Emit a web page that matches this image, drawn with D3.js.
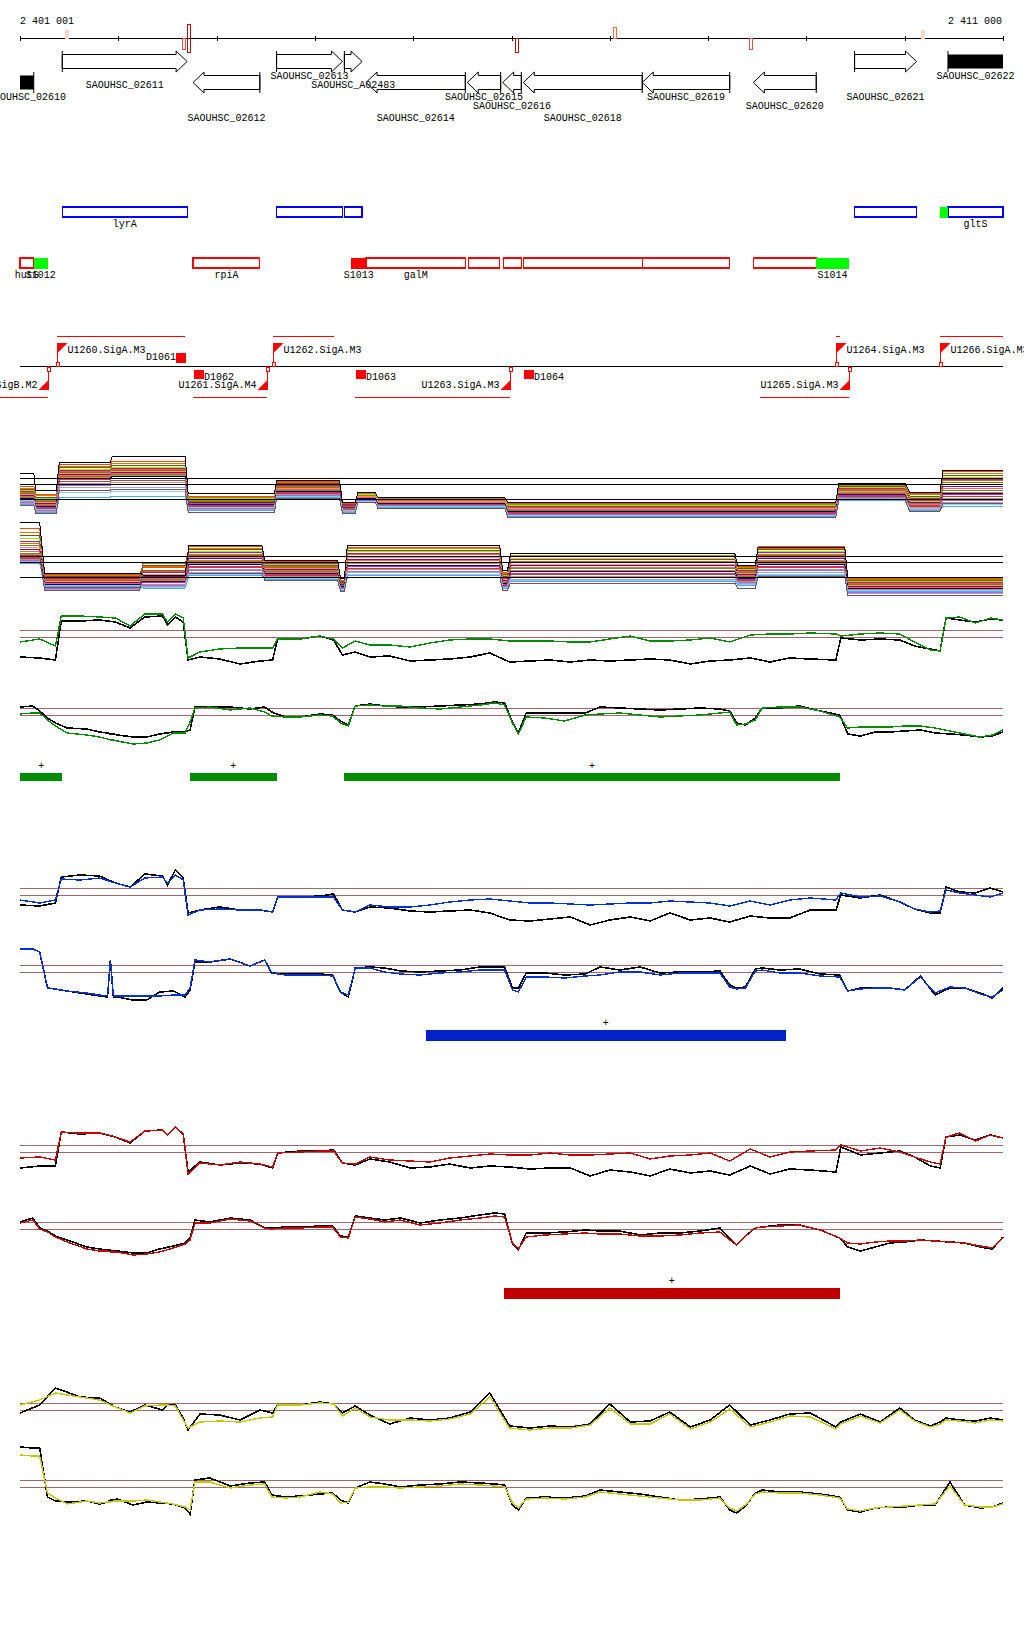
<!DOCTYPE html>
<html><head><meta charset="utf-8">
<script src="https://cdn.jsdelivr.net/npm/d3@7/dist/d3.min.js"></script>
<style>
body{margin:0;background:#fff}
text{font-family:"Liberation Mono","DejaVu Sans Mono",monospace;font-size:10px;fill:#000}
</style></head>
<body><svg id="c" width="1024" height="1640"></svg>
<script>
// ---------------- DATA (positions in kb from 2 401 001) ----------------
const axisLabels = ["2 401 001", "2 411 000"];
const axisMarks = [[0.48,"+",0.25],[1.67,"-",0.7],[1.72,"±",1.0],[5.06,"-",1.0],[6.05,"+",0.6],[7.44,"-",0.7],[9.19,"+",0.25]];

const genes = [
 ["SAOUHSC_02610",-0.6,0.14,-1,2],
 ["SAOUHSC_02611",0.43,1.70,1,1],
 ["SAOUHSC_02612",1.76,2.44,-1,4],
 ["SAOUHSC_02613",2.61,3.28,1,0],
 ["SAOUHSC_A02483",3.30,3.48,1,1],
 ["SAOUHSC_02614",3.52,4.53,-1,4],
 ["SAOUHSC_02615",4.55,4.89,-1,2],
 ["SAOUHSC_02616",4.91,5.10,-1,3],
 ["SAOUHSC_02618",5.12,6.33,-1,4],
 ["SAOUHSC_02619",6.33,7.22,-1,2],
 ["SAOUHSC_02620",7.46,8.10,-1,3],
 ["SAOUHSC_02621",8.49,9.12,1,2],
 ["SAOUHSC_02622",9.44,10.6,1,0]
];
const fwdBoxes = [["lyrA",0.43,1.70],["",2.61,3.28],["",3.30,3.48],["",8.49,9.12],["gltS",9.44,10.6]];
const revBoxes = [["hutG",-0.3,0.14],["rpiA",1.76,2.44],["galM",3.52,4.53],["",4.56,4.88],["",4.92,5.10],["",5.12,6.33],["",6.33,7.22],["",7.46,8.10]];
const sFeatures = [["S1012",0.14,0.28,-1,"up"],["S1013",3.37,3.52,-1,"down"],["S1014",8.10,8.43,-1,"up"],["",9.36,9.44,1,"up"]];

const promoters = [["U1259.SigB.M2",0.28,-1],["U1260.SigA.M3",0.38,1],["U1261.SigA.M4",2.51,-1],["U1262.SigA.M3",2.57,1],
 ["U1263.SigA.M3",4.98,-1],["U1264.SigA.M3",8.30,1],["U1265.SigA.M3",8.43,-1],["U1266.SigA.M3",9.36,1]];
const terminators = [["D1061",1.686,1],["D1062",1.77,-1],["D1063",3.415,-1],["D1064",5.127,-1]];
const fwdTx = [[0.38,1.68],[2.57,3.19],[8.30,8.34],[9.36,10]];
const revTx = [[-0.2,0.28],[1.76,2.51],[3.41,4.98],[7.53,8.43]];

// multi-condition tracks (segment levels)
const multiRefs = [0,-0.6,-2.1];
const multiFwdSeg = [[0,0.14],[0.16,0.37],[0.40,0.92],[0.94,1.68],[1.71,2.59],[2.61,3.25],[3.28,3.41],[3.44,3.61],[3.64,4.93],[4.96,8.3],[8.33,9.0],[9.05,9.36],[9.39,10]];
const multiFwdBlack = [0.5,-1.2,1.6,2.2,-1.5,-0.2,-2.4,-1.4,-1.9,-2.4,-0.5,-1.4,0.8];
const multiFwdLines = [
 [-0.8,-1.6,1.4,1.7,-1.8,-0.3,-2.5,-1.4,-1.9,-2.5,-0.6,-1.5,0.7],
 [-1.0,-1.7,1.2,1.5,-1.9,-0.4,-2.6,-1.5,-2.0,-2.6,-0.7,-1.6,0.5],
 [-1.1,-1.9,1.1,1.3,-2.0,-0.5,-2.6,-1.6,-2.1,-2.7,-0.8,-1.8,0.3],
 [-1.2,-2.0,0.9,1.1,-2.0,-0.6,-2.7,-1.6,-2.1,-2.7,-0.9,-1.9,0.1],
 [-1.3,-2.1,0.8,1.0,-2.1,-0.7,-2.7,-1.7,-2.2,-2.8,-1.0,-2.0,-0.1],
 [-1.4,-2.2,0.7,0.9,-2.2,-0.8,-2.8,-1.7,-2.2,-2.9,-1.1,-2.1,-0.2],
 [-1.5,-2.3,0.6,0.8,-2.3,-0.9,-2.8,-1.8,-2.3,-2.9,-1.2,-2.2,-0.4],
 [-1.6,-2.4,0.5,0.7,-2.4,-1.0,-2.9,-1.8,-2.3,-3.0,-1.3,-2.3,-0.6],
 [-1.7,-2.5,0.4,0.6,-2.4,-1.1,-2.9,-1.9,-2.4,-3.1,-1.4,-2.4,-0.8],
 [-1.8,-2.6,0.3,0.5,-2.5,-1.1,-3.0,-1.9,-2.4,-3.1,-1.4,-2.5,-1.0],
 [-1.9,-2.7,0.2,0.4,-2.5,-1.2,-3.0,-2.0,-2.5,-3.2,-1.5,-2.5,-1.2],
 [-2.0,-2.8,0.1,0.3,-2.6,-1.3,-3.1,-2.0,-2.5,-3.3,-1.6,-2.6,-1.4],
 [-2.0,-2.8,0.0,0.2,-2.6,-1.3,-3.1,-2.0,-2.5,-3.3,-1.6,-2.7,-1.5],
 [-2.1,-2.9,-0.1,0.0,-2.7,-1.4,-3.1,-2.1,-2.6,-3.4,-1.7,-2.7,-1.6],
 [-2.2,-3.0,-0.3,-0.2,-2.8,-1.5,-3.2,-2.1,-2.6,-3.5,-1.8,-2.8,-1.8],
 [-2.3,-3.1,-0.5,-0.4,-2.9,-1.6,-3.2,-2.2,-2.7,-3.6,-1.9,-2.9,-2.0],
 [-2.4,-3.2,-0.7,-0.6,-3.0,-1.7,-3.3,-2.2,-2.7,-3.6,-1.9,-3.0,-2.2],
 [-2.5,-3.3,-0.9,-0.9,-3.1,-1.8,-3.3,-2.3,-2.8,-3.7,-2.0,-3.1,-2.4],
 [-2.2,-3.1,-1.4,-1.3,-2.9,-1.8,-3.2,-2.3,-2.8,-3.7,-2.1,-3.0,-2.6],
 [-2.6,-3.4,-1.9,-1.8,-3.2,-1.9,-3.4,-2.4,-2.9,-3.8,-2.2,-3.2,-2.8],
 [-2.7,-3.5,-1.2,-1.1,-3.4,-2.0,-3.5,-2.4,-3.0,-3.9,-2.1,-3.3,-2.5]
];
const multiRevSeg = [[0,0.2],[0.25,1.22],[1.25,1.68],[1.72,2.46],[2.49,3.23],[3.26,3.3],[3.33,4.88],[4.91,4.96],[4.99,7.27],[7.3,7.48],[7.51,8.39],[8.42,10]];
const multiRevBlack = [3.4,-1.7,-1.9,1.1,-0.4,-2.2,1.1,-1.4,0.3,-0.9,0.9,-2.1];
const multiRevLines = [
 [2.8,-1.8,-1.1,1.0,-0.5,-2.4,0.9,-1.6,0.3,-1.0,1.0,-2.2],
 [2.4,-1.9,-1.0,0.8,-0.6,-2.5,0.8,-1.7,0.1,-1.1,0.8,-2.3],
 [2.1,-2.0,-0.9,0.7,-0.7,-2.5,0.6,-1.8,0.0,-1.2,0.7,-2.4],
 [1.8,-2.1,-1.4,0.5,-0.8,-2.6,0.5,-1.9,-0.2,-1.3,0.5,-2.5],
 [1.5,-2.2,-1.6,0.4,-0.9,-2.6,0.3,-2.0,-0.3,-1.4,0.4,-2.6],
 [1.3,-2.3,-1.5,0.2,-1.0,-2.7,0.2,-2.1,-0.5,-1.5,0.2,-2.7],
 [1.1,-2.4,-0.7,0.1,-1.1,-2.7,0.0,-2.2,-0.6,-1.6,0.1,-2.8],
 [0.9,-2.5,-1.8,-0.1,-1.2,-2.8,-0.1,-2.3,-0.8,-1.7,-0.1,-2.9],
 [0.7,-2.6,-2.0,-0.2,-1.3,-2.8,-0.3,-2.4,-0.9,-1.8,-0.2,-3.0],
 [0.5,-2.7,-2.2,-0.4,-1.4,-2.9,-0.4,-2.5,-1.1,-1.9,-0.4,-3.1],
 [0.3,-2.8,-2.3,-0.5,-1.5,-2.9,-0.6,-2.6,-1.2,-2.0,-0.5,-3.2],
 [0.2,-2.9,-2.4,-0.7,-1.6,-3.0,-0.7,-2.7,-1.4,-2.1,-0.7,-3.3],
 [0.0,-2.8,-2.5,-0.8,-1.7,-3.0,-0.9,-2.7,-1.5,-2.2,-0.8,-3.2],
 [-0.1,-3.0,-2.6,-1.0,-1.8,-3.1,-1.0,-2.8,-1.7,-2.3,-1.0,-3.4],
 [-0.2,-3.1,-1.4,-1.1,-1.9,-3.1,-1.2,-2.9,-1.8,-2.4,-1.1,-3.5],
 [-0.3,-3.2,-2.8,-1.3,-2.0,-3.2,-1.3,-3.0,-2.0,-2.5,-1.3,-3.6],
 [-0.4,-3.2,-2.9,-1.4,-2.1,-3.2,-1.5,-3.0,-2.1,-2.6,-1.4,-3.6],
 [-0.5,-3.3,-3.0,-1.6,-2.2,-3.3,-1.6,-3.1,-2.3,-2.7,-1.6,-3.7],
 [-0.6,-2.9,-3.1,-1.8,-2.2,-3.3,-1.8,-3.1,-2.4,-2.8,-1.8,-3.4],
 [-0.7,-3.0,-3.2,-1.9,-2.3,-3.4,-1.9,-3.2,-2.5,-2.9,-1.9,-3.5],
 [0.1,-3.4,-0.6,-1.7,-2.4,-3.5,-2.1,-3.4,-2.7,-3.2,-2.0,-3.9]
];

// paired tracks (log ratio-like values, 0 = upper threshold)
const pairRefs = [0,-0.7];
const fwdKb = [0,0.2,0.36,0.42,0.61,0.81,0.97,1.12,1.27,1.45,1.5,1.58,1.66,1.71,1.83,2.03,2.24,2.44,2.57,2.62,2.85,3.05,3.19,3.28,3.41,3.56,3.76,3.97,4.17,4.37,4.58,4.78,4.98,5.19,5.39,5.6,5.8,6.0,6.21,6.41,6.61,6.82,7.02,7.22,7.43,7.63,7.83,8.04,8.3,8.35,8.55,8.75,8.95,9.1,9.26,9.36,9.42,9.56,9.72,9.87,10];
const revKb = [0,0.13,0.2,0.28,0.36,0.48,0.68,0.81,0.89,0.92,0.95,0.99,1.15,1.29,1.42,1.56,1.68,1.73,1.78,1.93,2.14,2.34,2.49,2.56,2.7,2.85,3.05,3.18,3.26,3.34,3.41,3.56,3.71,3.87,4.07,4.27,4.48,4.68,4.83,4.93,5.01,5.07,5.15,5.34,5.54,5.75,5.9,6.1,6.31,6.51,6.71,6.92,7.12,7.22,7.29,7.38,7.48,7.55,7.73,7.93,8.14,8.34,8.42,8.55,8.7,8.85,9.0,9.16,9.31,9.46,9.61,9.77,9.89,10];

const greenFwdBlack = [-2.7,-2.8,-3.0,0.9,0.9,1.0,0.8,0.2,1.3,1.4,0.5,1.3,0.8,-3.0,-2.7,-2.9,-3.4,-3.1,-3.0,-0.9,-0.9,-0.6,-1.0,-2.5,-2.2,-2.7,-2.6,-3.1,-3.0,-2.9,-2.7,-2.3,-3.2,-3.1,-3.0,-3.2,-3.0,-3.1,-3.0,-2.9,-3.0,-3.4,-3.1,-3.0,-2.8,-3.2,-2.8,-2.9,-3.0,-0.8,-1.0,-0.9,-1.0,-1.6,-1.9,-2.1,1.2,1.0,0.8,1.1,1.0];
const greenFwd = [-1.2,-0.9,-1.6,1.4,1.4,1.3,1.2,0.4,1.6,1.6,0.8,1.6,1.2,-2.8,-2.2,-1.9,-1.8,-1.8,-1.8,-0.9,-0.9,-0.6,-0.9,-1.8,-1.1,-1.5,-1.5,-1.7,-1.3,-1.0,-0.9,-0.9,-1.1,-1.1,-1.1,-1.2,-1.2,-0.9,-0.6,-1.1,-1.1,-1.0,-0.8,-1.2,-0.5,-0.4,-0.4,-0.3,-0.4,-0.6,-0.4,-0.3,-0.4,-1.2,-2.0,-2.1,1.2,1.3,0.7,1.2,1.0];
const greenRevBlack = [0.1,0.2,-0.3,-1.0,-1.5,-2.0,-2.1,-2.4,-2.5,-2.6,-2.6,-2.7,-2.9,-2.9,-2.6,-2.4,-2.4,-2.2,0.1,0.1,0.1,-0.1,0.1,-0.4,-0.9,-0.9,-0.6,-0.7,-1.3,-1.7,0.2,0.4,0.2,0.1,0.1,0.2,0.3,0.4,0.6,0.5,-1.4,-2.5,-0.5,-0.5,-0.5,-0.5,0.1,0.0,-0.1,-0.2,-0.1,0.0,-0.1,-0.3,-1.5,-1.7,-1.0,0.0,0.0,0.2,-0.3,-0.7,-2.6,-2.8,-2.4,-2.4,-2.3,-2.2,-2.5,-2.6,-2.7,-2.9,-2.8,-2.4];
const greenRev = [-0.6,-0.5,-0.5,-1.2,-1.8,-2.5,-2.7,-2.9,-3.1,-3.2,-3.2,-3.3,-3.6,-3.5,-3.2,-2.5,-2.5,-1.4,0.0,0.1,-0.2,0.0,-0.4,-0.8,-0.9,-0.9,-0.7,-0.8,-1.5,-1.8,0.2,0.3,0.2,0.2,0.0,-0.1,0.1,0.3,0.5,0.3,-1.5,-2.6,-0.9,-1.0,-1.3,-0.7,-0.6,-0.5,-0.7,-0.9,-0.8,-0.7,-0.5,-0.4,-1.7,-1.6,-1.2,0.0,0.1,0.1,-0.3,-0.9,-2.0,-1.9,-1.9,-1.9,-1.8,-1.8,-2.0,-2.3,-2.6,-2.9,-2.7,-2.2];

const blueFwdBlack = [-1.7,-1.8,-1.5,1.1,1.3,1.2,0.5,0.1,1.4,1.2,0.3,1.8,1.0,-2.5,-2.2,-1.9,-2.2,-2.2,-2.4,-0.9,-0.9,-0.8,-0.6,-2.2,-2.4,-1.9,-2.0,-2.3,-2.4,-2.3,-2.2,-2.5,-3.2,-3.3,-3.1,-2.9,-3.7,-3.2,-2.9,-3.3,-2.5,-3.2,-3.0,-3.4,-2.8,-3.0,-3.0,-2.2,-2.2,-0.7,-1.0,-0.7,-1.4,-2.1,-2.5,-2.5,0.1,-0.4,-0.5,0.0,-0.4];
const blueFwd = [-1.2,-1.5,-1.2,0.9,0.8,1.0,0.5,0.1,1.0,1.1,0.5,1.3,0.8,-2.7,-2.2,-2.1,-2.2,-2.2,-2.4,-0.9,-0.9,-0.9,-0.9,-2.2,-2.4,-1.7,-1.9,-1.9,-1.7,-1.4,-1.2,-1.1,-1.3,-1.5,-1.5,-1.6,-1.7,-1.6,-1.5,-1.5,-1.3,-1.4,-1.5,-1.8,-1.3,-1.7,-1.2,-1.0,-1.2,-0.5,-0.9,-0.8,-1.4,-2.1,-2.4,-2.3,-0.2,-0.5,-0.7,-0.9,-0.5];
const blueRevBlack = [1.6,1.6,1.3,-2.3,-2.4,-2.6,-2.9,-3.1,-3.2,0.5,-3.2,-3.2,-3.5,-3.5,-2.7,-2.6,-3.2,-2.5,0.3,0.3,0.6,-0.1,0.5,-0.8,-0.9,-0.9,-0.9,-1.0,-2.7,-3.2,-0.3,-0.2,-0.3,-0.6,-0.7,-0.6,-0.5,-0.2,-0.2,-0.2,-2.3,-2.3,-0.8,-0.8,-1.0,-0.9,-0.2,-0.5,-0.2,-0.8,-0.7,-0.7,-0.6,-2.0,-2.3,-2.2,-0.4,-0.3,-0.5,-0.4,-0.9,-1.0,-2.6,-2.3,-2.3,-2.3,-2.5,-1.1,-3.0,-2.3,-2.3,-2.8,-3.3,-2.3];
const blueRev = [1.6,1.6,1.3,-2.3,-2.4,-2.6,-2.8,-3.0,-3.1,0.5,-3.1,-3.1,-3.1,-3.1,-3.1,-3.0,-3.0,-2.3,0.5,0.3,0.6,-0.1,0.5,-0.8,-1.0,-1.0,-1.0,-1.1,-2.7,-3.0,-0.3,-0.3,-0.7,-0.9,-1.0,-0.8,-0.7,-0.5,-0.5,-0.5,-2.5,-2.7,-1.2,-1.2,-1.3,-1.1,-1.0,-0.7,-0.7,-1.0,-0.8,-0.8,-0.8,-2.2,-2.4,-2.3,-0.6,-0.5,-0.8,-0.8,-1.1,-1.2,-2.6,-2.4,-2.3,-2.3,-2.5,-1.2,-2.8,-2.2,-2.3,-2.9,-3.2,-2.5];

const redFwdBlack = [-2.3,-2.1,-2.1,1.3,1.1,1.2,0.8,0.2,1.4,1.5,1.0,1.8,1.1,-2.7,-1.7,-2.0,-1.8,-1.9,-2.3,-0.8,-0.6,-0.6,-0.5,-1.8,-2.0,-1.4,-1.7,-2.3,-2.2,-1.9,-2.3,-2.1,-2.2,-2.4,-2.3,-2.3,-3.1,-2.5,-2.7,-3.1,-2.4,-2.8,-2.6,-3.0,-2.1,-2.9,-2.4,-2.5,-2.7,-0.2,-1.0,-0.8,-0.6,-1.2,-2.1,-2.3,0.8,1.0,0.5,1.0,0.7];
const redFwd = [-1.3,-1.2,-1.5,1.3,1.2,1.2,0.8,0.3,1.4,1.5,1.0,1.8,1.1,-2.9,-1.8,-2.0,-1.7,-1.9,-2.2,-0.8,-0.7,-0.6,-0.6,-1.8,-1.9,-1.2,-1.5,-1.6,-1.7,-1.3,-1.1,-0.9,-1.0,-1.0,-0.8,-1.0,-1.0,-0.9,-0.8,-1.4,-1.1,-1.0,-0.8,-1.6,-0.4,-1.2,-0.7,-0.6,-0.5,0.0,-0.6,-0.3,-0.7,-1.2,-1.7,-1.9,0.8,1.2,0.4,1.0,0.7];
const redRevBlack = [0.0,0.4,-0.6,-0.9,-1.4,-1.8,-2.5,-2.7,-2.8,-2.8,-2.9,-2.9,-3.1,-3.1,-2.7,-2.4,-2.1,-1.6,0.2,0.0,0.4,0.2,-0.6,-0.6,-0.5,-0.5,-0.4,-0.4,-1.4,-1.5,0.6,0.4,0.2,0.4,-0.1,0.2,0.4,0.7,0.9,0.8,-2.2,-2.8,-1.1,-1.1,-1.0,-0.8,-0.9,-0.9,-1.3,-1.1,-1.1,-0.9,-0.6,-1.6,-2.3,-1.4,-0.6,-0.5,-0.3,-0.3,-0.8,-1.6,-2.5,-2.9,-2.5,-2.1,-2.0,-1.8,-1.9,-2.0,-2.1,-2.5,-2.7,-1.5];
const redRev = [-0.1,0.2,-0.7,-1.0,-1.5,-2.0,-2.7,-2.9,-2.9,-3.0,-3.0,-3.0,-3.3,-3.2,-3.0,-2.6,-2.2,-1.8,-0.1,-0.1,0.3,0.1,-0.6,-0.7,-0.6,-0.6,-0.5,-0.5,-1.5,-1.6,0.5,0.3,0.0,0.2,-0.3,-0.1,0.2,0.4,0.6,0.5,-2.1,-2.7,-1.5,-1.3,-1.2,-1.1,-1.2,-1.2,-1.4,-1.4,-1.3,-1.1,-1.0,-1.8,-2.3,-1.4,-0.6,-0.5,-0.4,-0.3,-0.8,-1.6,-2.1,-2.2,-2.0,-1.9,-1.9,-1.8,-1.9,-2.0,-2.1,-2.4,-2.6,-1.6];

const yellowFwdBlack = [-1.0,-0.2,1.5,1.3,0.6,0.5,-0.4,-0.9,-0.2,-0.7,-0.2,-0.2,-1.5,-2.7,-1.1,-1.2,-1.7,-0.7,-1.0,-0.2,-0.2,0.1,-0.1,-1.0,-0.3,-1.2,-2.1,-1.5,-1.7,-1.5,-0.9,1.0,-2.3,-2.5,-2.3,-2.4,-2.1,-0.1,-1.9,-1.8,-0.9,-2.4,-1.7,-0.2,-2.2,-1.7,-1.1,-1.0,-2.4,-1.9,-1.1,-1.9,-0.5,-1.7,-2.3,-1.9,-1.5,-1.7,-1.8,-1.5,-1.7];
const yellowFwd = [-0.2,0.3,1.0,0.9,0.6,0.3,-0.4,-1.0,-0.3,-0.2,-0.2,-0.3,-1.7,-2.5,-1.9,-1.8,-1.9,-1.5,-1.4,-0.2,-0.2,0.0,-0.1,-1.3,-0.5,-1.4,-1.7,-1.7,-1.8,-1.6,-1.1,0.6,-2.5,-2.7,-2.5,-2.5,-2.2,-0.5,-2.1,-2.1,-1.1,-2.6,-1.9,-0.6,-2.4,-1.9,-1.3,-1.4,-2.6,-2.1,-1.3,-2.0,-0.7,-1.8,-2.4,-2.1,-1.7,-1.8,-2.0,-1.7,-1.8];
const yellowRevBlack = [3.3,3.2,3.2,-1.7,-2.1,-2.2,-2.1,-2.4,-2.2,-2.0,-2.0,-1.9,-2.5,-2.2,-2.3,-2.4,-2.8,-3.4,0.0,0.2,-0.6,-0.3,-0.2,-1.5,-1.7,-1.6,-1.4,-1.3,-2.0,-2.3,-0.8,-0.2,-0.4,-0.7,-0.5,-0.4,-0.2,-0.3,-0.4,-0.5,-2.5,-3.0,-1.8,-1.7,-1.8,-1.6,-1.0,-1.2,-1.4,-1.7,-2.0,-1.9,-1.7,-3.0,-3.3,-2.6,-1.3,-1.0,-1.2,-1.2,-1.4,-1.7,-3.0,-3.2,-2.8,-2.7,-2.7,-2.5,-2.5,-0.2,-2.5,-2.8,-2.7,-2.3];
const yellowRev = [2.5,2.4,2.4,-1.3,-1.8,-2.4,-2.1,-2.3,-2.2,-2.2,-2.1,-2.1,-2.1,-2.0,-2.2,-2.4,-2.7,-3.0,-0.2,-0.2,-0.8,-0.5,-0.4,-1.7,-1.8,-1.7,-1.2,-1.4,-2.3,-2.2,-0.8,-0.7,-0.7,-0.8,-0.7,-0.6,-0.4,-0.5,-0.6,-0.7,-2.3,-2.8,-1.9,-1.8,-1.9,-1.7,-1.2,-1.4,-1.6,-1.8,-2.0,-2.0,-1.8,-2.8,-3.1,-2.5,-1.4,-1.2,-1.3,-1.3,-1.5,-1.8,-2.9,-3.1,-2.8,-2.7,-2.6,-2.5,-2.4,-0.6,-2.5,-2.7,-2.7,-2.4];

// significant regions
const greenRegions = [[0,0.43],[1.73,2.61],[3.30,8.34]];
const blueRegions = [[4.13,7.79]];
const redRegions = [[4.92,8.34]];

// ---------------- DRAWING ----------------
const svg = d3.select("#c");
const X = d3.scaleLinear().domain([0,10]).range([20,1003]);
const g = svg.append("g").attr("shape-rendering","crispEdges");
const shapes = svg.append("g");
const labels = svg.append("g");

// axis
const axisY = 38;
g.append("line").attr("x1",X(0)).attr("x2",X(10)).attr("y1",axisY+0.5).attr("y2",axisY+0.5).attr("stroke","#000");
g.selectAll(".tk").data(X.ticks(10)).join("line")
 .attr("x1",d=>Math.round(X(d))+0.5).attr("x2",d=>Math.round(X(d))+0.5)
 .attr("y1",axisY-2).attr("y2",axisY+3).attr("stroke","#000");
labels.append("text").attr("x",X(0)).attr("y",24).text(axisLabels[0]);
labels.append("text").attr("x",X(10)-1).attr("y",24).attr("text-anchor","end").text(axisLabels[1]);
const markColor = d3.scaleLinear().domain([0.25,0.6,1]).range(["#fdd5c2","#f26a4a","#b01010"]);
axisMarks.forEach(([k,s,v])=>{
  const h = 6 + v*8, c = markColor(v);
  const y0 = s==="-" ? axisY : axisY - h;
  const hh = s==="±" ? 2*h : h;
  g.append("rect").attr("x",Math.round(X(k))-1.5).attr("y",y0).attr("width",3).attr("height",hh)
   .attr("fill", v<0.3 ? c : "none").attr("stroke",c);
});

// genes
const labelRows = [79,88,100,109,121];
genes.forEach(([name,s,e,str,row])=>{
  const yc = str>0 ? 61.5 : 82.5;
  const x0 = X(Math.max(s,0)), x1 = X(Math.min(e,10));
  const clipped = s<0 || e>10;
  if (clipped) {
    shapes.append("rect").attr("x",x0).attr("y",yc-7).attr("width",x1-x0).attr("height",14).attr("fill","#000");
  } else {
    const hd = Math.min(11, x1-x0);
    let pts;
    if (str>0) pts=[[x0,yc-7],[x1-hd,yc-7],[x1-hd,yc-10.5],[x1,yc],[x1-hd,yc+10.5],[x1-hd,yc+7],[x0,yc+7]];
    else pts=[[x1,yc-7],[x0+hd,yc-7],[x0+hd,yc-10.5],[x0,yc],[x0+hd,yc+10.5],[x0+hd,yc+7],[x1,yc+7]];
    shapes.append("path").attr("d","M"+pts.map(p=>p.join(",")).join("L")+"Z")
      .attr("fill","#fff").attr("stroke","#000").attr("stroke-width",1);
  }
  const bx = str>0 ? x0 : x1;
  if ((str>0 && s>=0) || (str<0 && e<=10))
    shapes.append("line").attr("x1",bx).attr("x2",bx).attr("y1",yc-10.5).attr("y2",yc+10.5).attr("stroke","#000");
  labels.append("text").attr("x",(x0+x1)/2).attr("y",labelRows[row]).attr("text-anchor","middle").text(name);
});

// annotation boxes
function boxes(list,y,color,ly){
  list.forEach(([name,s,e])=>{
    const x0=X(Math.max(s,0)), x1=X(Math.min(e,10));
    g.append("rect").attr("x",x0).attr("y",y).attr("width",x1-x0).attr("height",10)
     .attr("fill","none").attr("stroke",color).attr("stroke-width",1.2);
    if(name) labels.append("text").attr("x",(x0+x1)/2).attr("y",ly).attr("text-anchor","middle").text(name);
  });
}
boxes(fwdBoxes,207,"#0000ff",227);
boxes(revBoxes,258,"#ff0000",278);
const sColor = {up:"#00ff00", down:"#ff0000"};
sFeatures.forEach(([name,s,e,str,t])=>{
  const y = str>0 ? 207 : 258, ly = str>0 ? 227 : 278;
  g.append("rect").attr("x",X(s)).attr("y",y).attr("width",X(e)-X(s)).attr("height",10.5).attr("fill",sColor[t]);
  if(name) labels.append("text").attr("x",(X(s)+X(e))/2).attr("y",ly).attr("text-anchor","middle").text(name);
});

// promoters / terminators
const pY = 366;
g.append("line").attr("x1",X(0)).attr("x2",X(10)).attr("y1",pY+0.5).attr("y2",pY+0.5).attr("stroke","#000");
fwdTx.forEach(([s,e])=>g.append("line").attr("x1",X(s)).attr("x2",X(e)).attr("y1",336.5).attr("y2",336.5).attr("stroke","#f00"));
revTx.forEach(([s,e])=>g.append("line").attr("x1",Math.max(0,X(s))).attr("x2",X(e)).attr("y1",397.5).attr("y2",397.5).attr("stroke","#f00"));
promoters.forEach(([name,k,str])=>{
  const x = Math.round(X(k))+0.5;
  if (str>0){
    g.append("line").attr("x1",x).attr("x2",x).attr("y1",pY).attr("y2",343).attr("stroke","#f00");
    shapes.append("path").attr("d",`M${x},343L${x+10},343L${x},353Z`).attr("fill","#f00");
    g.append("rect").attr("x",x-1.5).attr("y",pY-4).attr("width",3).attr("height",4).attr("fill","#fff").attr("stroke","#f00");
    labels.append("text").attr("x",x+10).attr("y",353).text(name);
  } else {
    g.append("line").attr("x1",x).attr("x2",x).attr("y1",pY).attr("y2",390).attr("stroke","#f00");
    shapes.append("path").attr("d",`M${x},390L${x-10},390L${x},380Z`).attr("fill","#f00");
    g.append("rect").attr("x",x-1.5).attr("y",pY+1).attr("width",3).attr("height",4).attr("fill","#fff").attr("stroke","#f00");
    labels.append("text").attr("x",x-11).attr("y",388).attr("text-anchor","end").text(name);
  }
});
terminators.forEach(([name,k,str])=>{
  const x = Math.round(X(k));
  if (str>0){
    g.append("rect").attr("x",x-10).attr("y",353).attr("width",10).attr("height",10).attr("fill","#f00");
    labels.append("text").attr("x",x-10).attr("y",360).attr("text-anchor","end").text(name);
  } else {
    g.append("rect").attr("x",x).attr("y",370).attr("width",10).attr("height",9).attr("fill","#f00");
    labels.append("text").attr("x",x+10).attr("y",380).text(name);
  }
});

// multi-condition panels
const palette = ["#ff4500","#b8860b","#8b4513","#7cfc00","#c71585","#d2691e","#808000","#e9967a","#8b008b","#ff6347","#6b8e23","#cd853f","#000080","#ff1493","#a0522d","#bc8f8f","#9370db","#b0a0c8","#87cefa","#4fa8e8","#7a5050"];
function segPts(segs,vals){const p=[];segs.forEach((s,i)=>{p.push([s[0],vals[i]]);p.push([s[1],vals[i]]);});return p;}
function drawMulti(refY,segs,lines,black){
  const Y = v => refY - v*10;
  const ln = d3.line().x(d=>X(d[0])).y(d=>Y(d[1]));
  lines.forEach((vals,i)=>g.append("path").attr("d",ln(segPts(segs,vals))).attr("fill","none").attr("stroke",palette[i%palette.length]).attr("stroke-width",1));
  g.append("path").attr("d",ln(segPts(segs,black))).attr("fill","none").attr("stroke","#000").attr("stroke-width",1);
  multiRefs.forEach(r=>g.append("line").attr("x1",X(0)).attr("x2",X(10)).attr("y1",Y(r)+0.5).attr("y2",Y(r)+0.5).attr("stroke","#000"));
}
drawMulti(478,multiFwdSeg,multiFwdLines,multiFwdBlack);
drawMulti(556,multiRevSeg,multiRevLines,multiRevBlack);

// paired panels
function drawPair(refY,kb,black,sig,color){
  const Y = v => refY - v*10;
  const ln = d3.line().defined(d=>d[1]!==undefined).x(d=>X(d[0])).y(d=>Y(d[1]));
  pairRefs.forEach(r=>g.append("line").attr("x1",X(0)).attr("x2",X(10)).attr("y1",Y(r)+0.5).attr("y2",Y(r)+0.5).attr("stroke","#a06868"));
  g.append("path").attr("d",ln(kb.map((k,i)=>[k,black[i]]))).attr("fill","none").attr("stroke","#000").attr("stroke-width",1.6);
  g.append("path").attr("d",ln(kb.map((k,i)=>[k,sig[i]]))).attr("fill","none").attr("stroke",color).attr("stroke-width",1.4);
}
drawPair(630,fwdKb,greenFwdBlack,greenFwd,"#008c00");
drawPair(708,revKb,greenRevBlack,greenRev,"#008c00");
drawPair(888,fwdKb,blueFwdBlack,blueFwd,"#0030d8");
drawPair(965,revKb,blueRevBlack,blueRev,"#0030d8");
drawPair(1145,fwdKb,redFwdBlack,redFwd,"#c80000");
drawPair(1222,revKb,redRevBlack,redRev,"#c80000");
drawPair(1403,fwdKb,yellowFwdBlack,yellowFwd,"#c4c800");
drawPair(1480,revKb,yellowRevBlack,yellowRev,"#c4c800");

// region bars
function bars(list,y,h,color){
  list.forEach(([s,e])=>{
    g.append("rect").attr("x",X(s)).attr("y",y).attr("width",X(e)-X(s)).attr("height",h).attr("fill",color);
    labels.append("text").attr("x",(X(s)+X(e))/2).attr("y",y-4).attr("text-anchor","middle").text("+");
  });
}
bars(greenRegions,773,8,"#008c00");
bars(blueRegions,1030,11,"#0022c8");
bars(redRegions,1288,11,"#c00000");
</script></body></html>
